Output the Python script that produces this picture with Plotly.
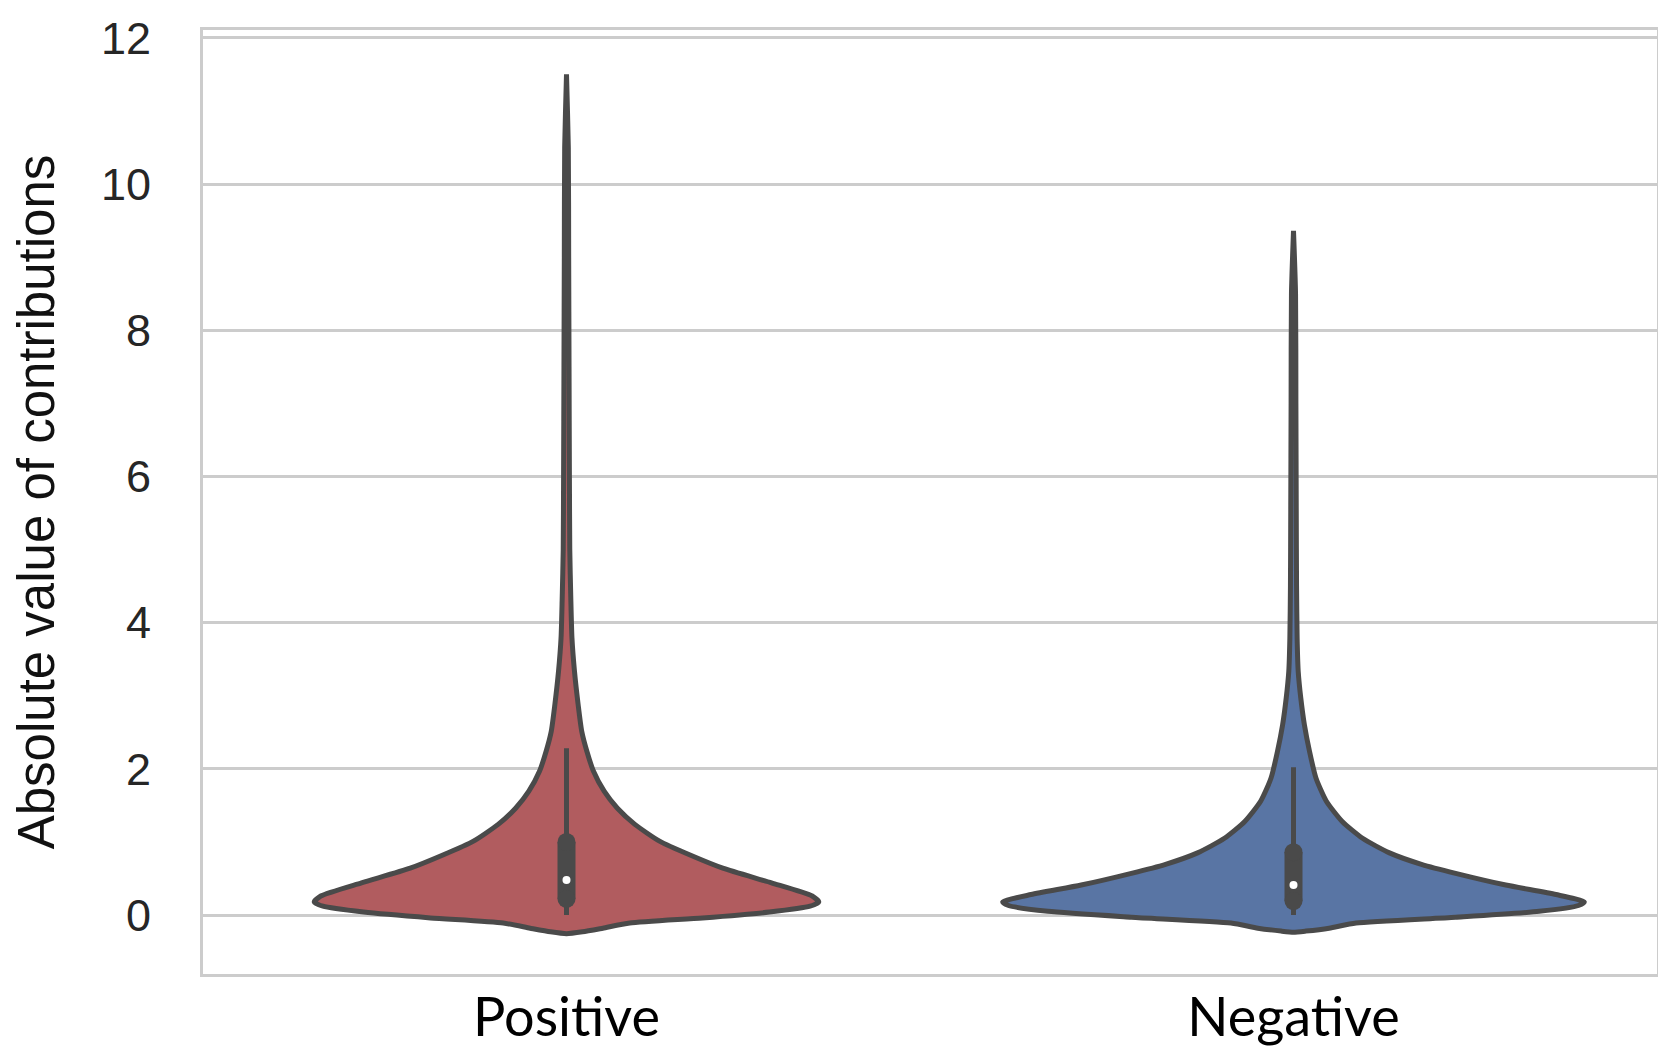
import plotly.graph_objects as go

# ---- data ----
categories = ["Positive", "Negative"]
positions = [0, 1]

# density profile: value levels and half-widths (in category units)
pos_levels = [-0.255, -0.23, -0.18, -0.11, -0.04, 0.04, 0.12, 0.18, 0.26, 0.44, 0.64,
              0.82, 1.01, 1.24, 1.46, 1.69, 1.97, 2.24, 2.51, 2.88, 3.33, 3.79, 4.3,
              5.0, 6.0, 7.5, 9.0, 10.5, 11.5]
pos_halfwidth = [0, 0.022, 0.050, 0.087, 0.187, 0.279, 0.335, 0.347, 0.338, 0.282, 0.215,
                 0.170, 0.128, 0.094, 0.070, 0.052, 0.037, 0.028, 0.021, 0.016, 0.011, 0.0075,
                 0.006, 0.0045, 0.004, 0.0035, 0.003, 0.0025, 0]

neg_levels = [-0.235, -0.22, -0.18, -0.11, -0.03, 0.05, 0.13, 0.18, 0.28, 0.41, 0.57, 0.69,
              0.85, 1.05, 1.28, 1.56, 1.87, 2.24, 2.60, 2.97, 3.33, 3.79, 4.5, 5.5, 7.0,
              8.5, 9.36]
neg_halfwidth = [0, 0.017, 0.049, 0.086, 0.223, 0.338, 0.392, 0.400, 0.361, 0.292, 0.223,
                 0.177, 0.132, 0.095, 0.067, 0.045, 0.031, 0.022, 0.015, 0.010, 0.0065,
                 0.005, 0.0042, 0.0038, 0.0033, 0.0028, 0]

# inner box statistics
whisker_low = [0.0, 0.0]
whisker_high = [2.28, 2.02]
q1 = [0.22, 0.19]
q3 = [1.0, 0.86]
medians = [0.48, 0.41]

fill_colors = ["#b15c5f", "#5975a4"]
y_ticks = [0, 2, 4, 6, 8, 10, 12]

EDGE = "#4a4a4a"

fig = go.Figure()

profiles = [(pos_levels, pos_halfwidth), (neg_levels, neg_halfwidth)]
for i, (lv, hw) in enumerate(profiles):
    c = positions[i]
    xs = [c - w for w in hw] + [c + w for w in reversed(hw)]
    ys = list(lv) + list(reversed(lv))
    fig.add_trace(go.Scatter(
        x=xs, y=ys, mode="lines", fill="toself",
        fillcolor=fill_colors[i],
        line=dict(color=EDGE, width=5, shape="spline", smoothing=0.6),
        hoverinfo="skip", showlegend=False, name=categories[i]))

for i in range(2):
    c = positions[i]
    # whisker
    fig.add_trace(go.Scatter(
        x=[c, c], y=[whisker_low[i], whisker_high[i]], mode="lines",
        line=dict(color=EDGE, width=5), hoverinfo="skip", showlegend=False))
    # box (thick line with round ends)
    fig.add_trace(go.Scatter(
        x=[c, c], y=[q1[i], q3[i]], mode="lines+markers",
        line=dict(color=EDGE, width=18),
        marker=dict(color=EDGE, size=18, line=dict(width=0)),
        hoverinfo="skip", showlegend=False))
    # median
    fig.add_trace(go.Scatter(
        x=[c], y=[medians[i]], mode="markers",
        marker=dict(color="white", size=8, line=dict(width=0)),
        hoverinfo="skip", showlegend=False))

fig.update_layout(
    width=1666, height=1058,
    margin=dict(l=195, r=17, t=22, b=92, autoexpand=False),
    paper_bgcolor="white", plot_bgcolor="white",
    xaxis=dict(
        range=[-0.5, 1.5], tickvals=positions, ticktext=categories,
        showgrid=False, zeroline=False,
        showline=True, mirror=True, linecolor="#cccccc", linewidth=3,
        ticks="", ticklabelstandoff=-6,
        tickfont=dict(family="Lato", size=54, color="#000000"),
    ),
    yaxis=dict(
        range=[-0.807, 12.107], tickvals=y_ticks,
        showgrid=True, gridcolor="#cccccc", gridwidth=3, zeroline=False,
        showline=True, mirror=True, linecolor="#cccccc", linewidth=3,
        ticks="", ticklabelstandoff=40,
        tickfont=dict(family="Liberation Sans", size=45, color="#262626"),
        title=dict(text="Absolute value of contributions", standoff=34,
                   font=dict(family="Liberation Sans", size=51, color="#111111")),
    ),
)

fig.write_html("out.html")
